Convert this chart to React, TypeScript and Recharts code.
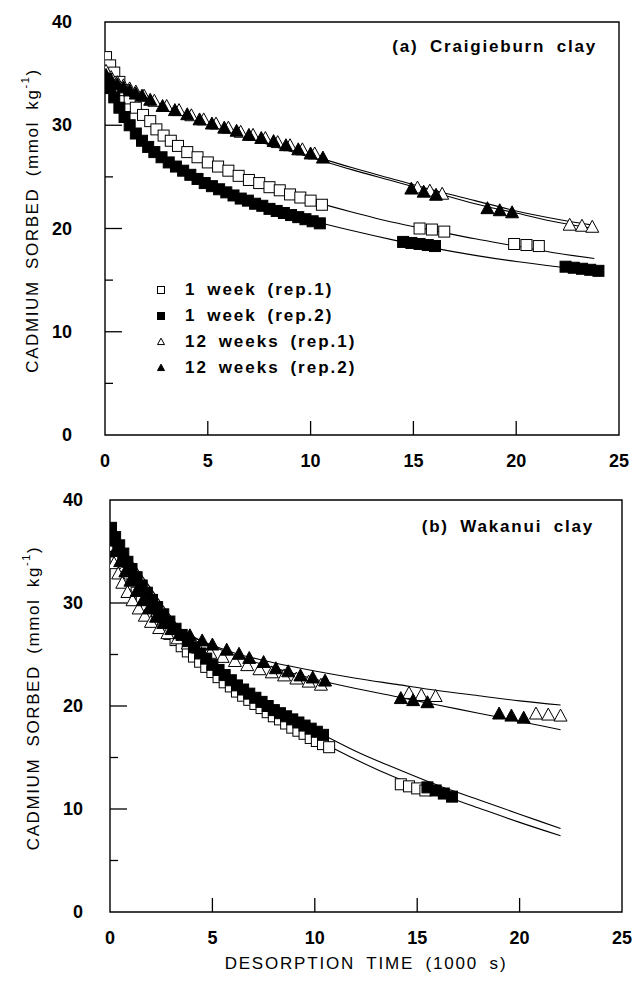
import { ComposedChart, Scatter, Line, XAxis, YAxis, ReferenceArea, Legend, Label } from 'recharts'

const FONT = '"Liberation Sans", Arial, Helvetica, sans-serif'

type Pair = [number, number]

const xTicks = [0, 5, 10, 15, 20, 25]
const yTicks = [0, 5, 10, 15, 20, 25, 30, 35, 40]

const legendLabels = ['1 week (rep.1)', '1 week (rep.2)', '12 weeks (rep.1)', '12 weeks (rep.2)']
const panelTitles = ['(a) Craigieburn clay', '(b) Wakanui clay']
const yTitle = 'CADMIUM SORBED (mmol kg'
const xTitle = 'DESORPTION TIME (1000 s)'

// (a) Craigieburn clay -- measured points [time (1000 s), Cd sorbed]
const aWeek1Rep1: Pair[] = [
  [0.05, 36.6], [0.25, 35.8], [0.45, 35.1], [0.7, 34.2], [0.95, 33.4], [1.2, 32.6], [1.5, 31.7],
  [1.85, 31.0], [2.2, 30.4], [2.5, 29.6], [2.85, 29.0], [3.2, 28.5], [3.55, 28.0], [4.0, 27.4],
  [4.5, 26.9], [5.0, 26.4], [5.5, 26.0], [6.0, 25.6], [6.5, 25.1], [7.0, 24.7], [7.5, 24.4],
  [8.0, 24.0], [8.5, 23.7], [9.0, 23.3], [9.5, 23.0], [10.0, 22.7], [10.55, 22.3],
  [15.3, 20.0], [15.9, 19.9], [16.5, 19.7], [19.9, 18.5], [20.5, 18.4], [21.1, 18.3]
]
const aWeek1Rep2: Pair[] = [
  [0.05, 34.5], [0.25, 33.6], [0.45, 32.7], [0.7, 31.7], [0.95, 30.8], [1.2, 30.0], [1.5, 29.2],
  [1.8, 28.5], [2.1, 27.9], [2.4, 27.4], [2.75, 26.9], [3.1, 26.4], [3.45, 26.0], [3.8, 25.6],
  [4.15, 25.2], [4.5, 24.8], [4.85, 24.4], [5.2, 24.1], [5.55, 23.8], [5.9, 23.5], [6.25, 23.2],
  [6.6, 22.9], [6.95, 22.7], [7.3, 22.4], [7.65, 22.2], [8.0, 21.9], [8.35, 21.7], [8.7, 21.5],
  [9.05, 21.3], [9.4, 21.1], [9.75, 20.9], [10.1, 20.7], [10.45, 20.5],
  [14.5, 18.7], [14.9, 18.6], [15.3, 18.5], [15.7, 18.4], [16.05, 18.3],
  [22.4, 16.3], [22.8, 16.2], [23.2, 16.1], [23.6, 16.0], [24.0, 15.9]
]
const aWeek12Rep1: Pair[] = [
  [0.05, 35.2], [0.3, 34.6], [0.6, 34.1], [0.9, 33.8], [1.2, 33.5], [1.5, 33.2], [1.9, 32.8],
  [2.4, 32.3], [3.0, 31.8], [3.6, 31.4], [4.2, 30.9], [4.8, 30.5], [5.4, 30.1], [6.0, 29.7],
  [6.6, 29.3], [7.2, 29.0], [7.8, 28.7], [8.4, 28.3], [9.0, 28.0], [9.6, 27.6], [10.2, 27.2],
  [15.2, 23.9], [15.8, 23.6], [16.4, 23.3], [22.6, 20.3], [23.2, 20.2], [23.7, 20.1]
]
const aWeek12Rep2: Pair[] = [
  [0.05, 34.8], [0.3, 34.3], [0.6, 33.9], [0.9, 33.6], [1.2, 33.3], [1.5, 33.0], [1.8, 32.8],
  [2.2, 32.4], [2.8, 31.8], [3.4, 31.4], [4.0, 31.0], [4.6, 30.5], [5.2, 30.1], [5.8, 29.7],
  [6.4, 29.4], [7.0, 29.0], [7.6, 28.7], [8.2, 28.4], [8.8, 28.0], [9.4, 27.6], [10.0, 27.2],
  [10.6, 26.8], [14.9, 23.8], [15.5, 23.5], [16.1, 23.2], [18.6, 21.9], [19.2, 21.7], [19.8, 21.5]
]
// fitted curves (a)
const aFitWeek1Rep1: Pair[] = [
  [0, 36.5], [0.5, 34.9], [1, 33.3], [1.5, 31.9], [2, 30.6], [3, 28.9], [4, 27.5], [5, 26.4], [6, 25.5],
  [8, 24.0], [10, 22.7], [12, 21.6], [14, 20.6], [16, 19.8], [18, 19.0], [20, 18.3], [22, 17.6], [23.8, 17.1]
]
const aFitWeek1Rep2: Pair[] = [
  [0, 34.6], [0.5, 32.5], [1, 30.9], [1.5, 29.5], [2, 28.3], [3, 26.6], [4, 25.4], [5, 24.4], [6, 23.5],
  [8, 22.0], [10, 20.8], [12, 19.8], [14, 18.9], [16, 18.1], [18, 17.4], [20, 16.8], [22, 16.3], [23.8, 15.9]
]
const aFitWeek12Rep1: Pair[] = [
  [0, 35.3], [0.5, 34.5], [1, 33.8], [2, 32.7], [3, 31.8], [4, 31.0], [5, 30.3], [6, 29.6], [8, 28.3],
  [10, 27.1], [12, 25.9], [14, 24.8], [16, 23.7], [18, 22.7], [20, 21.7], [22, 20.9], [23.8, 20.3]
]
const aFitWeek12Rep2: Pair[] = [
  [0, 34.9], [0.5, 34.1], [1, 33.5], [2, 32.5], [3, 31.6], [4, 30.8], [5, 30.1], [6, 29.4], [8, 28.1],
  [10, 26.9], [12, 25.7], [14, 24.6], [16, 23.5], [18, 22.4], [20, 21.5], [22, 20.6], [23.8, 20.0]
]

// (b) Wakanui clay -- measured points
const bWeek1Rep1: Pair[] = [
  [0.05, 36.0], [0.25, 35.0], [0.45, 34.1], [0.65, 33.3], [0.85, 32.5], [1.05, 31.8], [1.3, 31.0],
  [1.55, 30.3], [1.8, 29.6], [2.05, 29.0], [2.3, 28.4], [2.6, 27.7], [2.9, 27.0], [3.2, 26.4],
  [3.5, 25.8], [3.8, 25.3], [4.1, 24.8], [4.4, 24.3], [4.7, 23.8], [5.0, 23.3], [5.3, 22.8],
  [5.6, 22.3], [5.9, 21.9], [6.2, 21.4], [6.5, 21.0], [6.8, 20.6], [7.1, 20.2], [7.4, 19.8],
  [7.7, 19.4], [8.0, 19.0], [8.3, 18.7], [8.6, 18.3], [8.9, 17.9], [9.2, 17.6], [9.5, 17.3],
  [9.8, 16.9], [10.1, 16.6], [10.4, 16.3], [10.7, 16.0],
  [14.2, 12.4], [14.6, 12.2], [15.0, 12.0], [15.4, 11.8]
]
const bWeek1Rep2: Pair[] = [
  [0.05, 37.3], [0.25, 36.4], [0.45, 35.6], [0.65, 34.8], [0.85, 34.0], [1.05, 33.3], [1.3, 32.5],
  [1.55, 31.7], [1.8, 31.0], [2.05, 30.3], [2.3, 29.6], [2.6, 28.9], [2.9, 28.2], [3.2, 27.5],
  [3.5, 26.9], [3.8, 26.3], [4.1, 25.7], [4.4, 25.1], [4.7, 24.6], [5.0, 24.0], [5.3, 23.5],
  [5.6, 23.0], [5.9, 22.5], [6.2, 22.0], [6.5, 21.6], [6.8, 21.2], [7.1, 20.8], [7.4, 20.4],
  [7.7, 20.0], [8.0, 19.6], [8.3, 19.3], [8.6, 19.0], [8.9, 18.7], [9.2, 18.4], [9.5, 18.1],
  [9.8, 17.8], [10.1, 17.5], [10.4, 17.2],
  [15.5, 12.1], [15.9, 11.8], [16.3, 11.5], [16.7, 11.2]
]
const bWeek12Rep1: Pair[] = [
  [0.05, 35.0], [0.2, 33.8], [0.4, 32.8], [0.6, 31.9], [0.85, 31.0], [1.1, 30.2], [1.4, 29.4],
  [1.7, 28.7], [2.0, 28.1], [2.4, 27.5], [2.8, 27.0], [3.3, 26.5], [3.8, 26.0], [4.3, 25.6],
  [4.9, 25.1], [5.5, 24.7], [6.1, 24.3], [6.7, 23.9], [7.3, 23.5], [7.9, 23.2], [8.5, 22.9],
  [9.1, 22.6], [9.7, 22.3], [10.3, 22.0],
  [14.6, 21.2], [15.2, 21.0], [15.9, 20.9], [20.8, 19.2], [21.4, 19.1], [22.0, 19.0]
]
const bWeek12Rep2: Pair[] = [
  [0.05, 36.0], [0.25, 35.0], [0.5, 34.0], [0.75, 33.0], [1.0, 32.1], [1.3, 31.1], [1.6, 30.2],
  [1.9, 29.4], [2.25, 28.6], [2.6, 28.0], [3.0, 27.4], [3.4, 27.0], [3.9, 26.8], [4.5, 26.3],
  [5.0, 25.9], [5.7, 25.4], [6.3, 25.0], [6.8, 24.6], [7.5, 24.2], [8.1, 23.6], [8.7, 23.3],
  [9.3, 22.9], [9.9, 22.7], [10.5, 22.4],
  [14.2, 20.7], [14.8, 20.5], [15.5, 20.3], [19.0, 19.2], [19.6, 19.0], [20.2, 18.8]
]
// fitted curves (b)
const bFitWeek1Rep1: Pair[] = [
  [0, 36.3], [0.5, 34.6], [1, 32.9], [2, 29.9], [3, 27.2], [4, 25.0], [5, 23.2], [6, 21.7], [7, 20.3],
  [8, 19.0], [9, 17.9], [10, 16.8], [11, 15.8], [12, 14.8], [14, 13.0], [16, 11.5], [18, 10.1], [20, 8.7], [22, 7.4]
]
const bFitWeek1Rep2: Pair[] = [
  [0, 37.6], [0.5, 35.9], [1, 34.3], [2, 31.4], [3, 28.6], [4, 26.2], [5, 24.1], [6, 22.4], [7, 20.9],
  [8, 19.7], [9, 18.6], [10, 17.6], [11, 16.6], [12, 15.6], [14, 13.9], [16, 12.3], [18, 10.9], [20, 9.5], [22, 8.1]
]
const bFitWeek12Rep1: Pair[] = [
  [0, 35.3], [0.5, 33.0], [1, 31.3], [2, 29.1], [3, 27.7], [4, 26.7], [5, 25.9], [6, 25.2], [8, 24.2],
  [10, 23.4], [12, 22.7], [14, 22.1], [16, 21.5], [18, 21.0], [20, 20.5], [22, 20.1]
]
const bFitWeek12Rep2: Pair[] = [
  [0, 36.2], [0.5, 34.2], [1, 32.5], [2, 29.8], [3, 28.0], [4, 26.8], [5, 25.8], [6, 25.0], [8, 23.7],
  [10, 22.6], [12, 21.7], [14, 20.9], [16, 20.1], [18, 19.3], [20, 18.5], [22, 17.7]
]

type Kind = 'openSq' | 'fillSq' | 'openTri' | 'fillTri'
const legendKinds: Kind[] = ['openSq', 'fillSq', 'openTri', 'fillTri']

const toPts = (arr: Pair[]) => arr.map(([x, y]) => ({ x, y }))

const Marker = ({ cx, cy, kind, size }: { cx: number; cy: number; kind: Kind; size: number }) => {
  if (cx == null || cy == null) return null
  const fill = kind.startsWith('fill') ? '#000' : '#fff'
  if (kind.endsWith('Sq')) {
    return (
      <rect x={cx - size / 2} y={cy - size / 2} width={size} height={size}
        fill={fill} stroke="#000" strokeWidth={1} />
    )
  }
  const h = size * 0.92
  return (
    <polygon
      points={`${cx},${cy - h * 0.6} ${cx - size / 2},${cy + h * 0.4} ${cx + size / 2},${cy + h * 0.4}`}
      fill={fill} stroke="#000" strokeWidth={1} strokeLinejoin="miter" />
  )
}

const YTick = ({ x, y, payload, gap }: any) => {
  const v = payload.value
  const axisX = x + gap
  const major = v % 10 === 0
  return (
    <g>
      {v > 0 && v < 40 && (
        <line x1={axisX} x2={axisX + (major ? 17 : 8)} y1={y} y2={y} stroke="#000" strokeWidth={1.3} />
      )}
      {major && (
        <text x={x} y={y} textAnchor="end" dominantBaseline="central"
          fontFamily={FONT} fontSize={18} fontWeight={700} fill="#000">{v}</text>
      )}
    </g>
  )
}

const XTick = ({ x, y, payload, gap }: any) => {
  const v = payload.value
  const axisY = y - gap
  return (
    <g>
      {v > 0 && v < 25 && (
        <line x1={x} x2={x} y1={axisY} y2={axisY - 14} stroke="#000" strokeWidth={1.3} />
      )}
      <text x={x} y={y} textAnchor="middle" dominantBaseline="central"
        fontFamily={FONT} fontSize={18} fontWeight={700} fill="#000">{v}</text>
    </g>
  )
}

const LegendBox = () => (
  <div style={{ fontFamily: FONT, fontSize: 17, fontWeight: 700, letterSpacing: 2, wordSpacing: 4, color: '#000' }}>
    {legendLabels.map((label, i) => (
      <div key={label} style={{ display: 'flex', alignItems: 'center', height: 26, whiteSpace: 'nowrap' }}>
        <svg width={12} height={12} style={{ marginRight: 18, flex: 'none' }}>
          <Marker cx={6} cy={6} kind={legendKinds[i]} size={7} />
        </svg>
        <span>{label}</span>
      </div>
    ))}
  </div>
)

interface PanelProps {
  height: number
  margin: { top: number; right: number; bottom: number; left: number }
  xAxisHeight: number
  yGap: number
  yTitleX: number
  title: string
  titleRight: number
  titleTop: number
  week1Rep1: Pair[]
  week1Rep2: Pair[]
  week12Rep1: Pair[]
  week12Rep2: Pair[]
  fits: Pair[][]
  showLegend?: boolean
  showXTitle?: boolean
}

function Panel(p: PanelProps) {
  const series: { data: Pair[]; kind: Kind; size: number }[] = [
    { data: p.week1Rep1, kind: 'openSq', size: 11 },
    { data: p.week12Rep1, kind: 'openTri', size: 13 },
    { data: p.week1Rep2, kind: 'fillSq', size: 11 },
    { data: p.week12Rep2, kind: 'fillTri', size: 13 }
  ]
  return (
    <div style={{ position: 'relative', width: 632, height: p.height }}>
      <ComposedChart width={632} height={p.height} margin={p.margin} style={{ fontFamily: FONT }}>
        <XAxis type="number" dataKey="x" domain={[0, 25]} ticks={xTicks} interval={0} allowDataOverflow
          height={p.xAxisHeight} axisLine={false} tickLine={false} tickSize={0} tickMargin={26}
          tick={(t: any) => <XTick {...t} gap={26} />}>
          {p.showXTitle && (
            <Label content={({ viewBox }: any) => (
              <text x={viewBox.x + viewBox.width / 2} y={viewBox.y + 51} textAnchor="middle"
                dominantBaseline="central" fontFamily={FONT} fontSize={17} letterSpacing={1.8}
                style={{ wordSpacing: 5 }} fill="#000">{xTitle}</text>
            )} />
          )}
        </XAxis>
        <YAxis type="number" dataKey="y" domain={[0, 40]} ticks={yTicks} interval={0} allowDataOverflow
          width={40} axisLine={false} tickLine={false} tickSize={0} tickMargin={p.yGap}
          tick={(t: any) => <YTick {...t} gap={p.yGap} />}>
          <Label content={({ viewBox }: any) => {
            const cy = viewBox.y + viewBox.height / 2 - 8
            const cx = p.yTitleX
            return (
              <text x={cx} y={cy} transform={`rotate(-90 ${cx} ${cy})`} textAnchor="middle"
                dominantBaseline="central" fontFamily={FONT} fontSize={17} letterSpacing={1.6}
                style={{ wordSpacing: 5 }} fill="#000">
                {yTitle}
                <tspan dy={-7} fontSize={11}>-1</tspan>
                <tspan dy={7}>)</tspan>
              </text>
            )
          }} />
        </YAxis>
        <ReferenceArea x1={0} x2={25} y1={0} y2={40} fill="none" stroke="#000" strokeWidth={1.4} ifOverflow="visible" />
        {p.fits.map((f, i) => (
          <Line key={`fit-${i}`} data={toPts(f)} dataKey="y" type="monotone" dot={false} activeDot={false}
            stroke="#000" strokeWidth={1.1} isAnimationActive={false} legendType="none" />
        ))}
        {series.map((s) => (
          <Scatter key={s.kind} data={toPts(s.data)} dataKey="y" isAnimationActive={false}
            shape={(sp: any) => <Marker cx={sp.cx} cy={sp.cy} kind={s.kind} size={s.size} />} />
        ))}
        {p.showLegend && (
          <Legend layout="vertical" align="center" verticalAlign="middle"
            wrapperStyle={{ left: 155, top: 277, width: 260, height: 110 }}
            content={() => <LegendBox />} />
        )}
      </ComposedChart>
      <div style={{
        position: 'absolute', right: p.titleRight, top: p.titleTop, fontFamily: FONT, fontSize: 17,
        fontWeight: 700, letterSpacing: 1.8, wordSpacing: 5, lineHeight: '20px', whiteSpace: 'nowrap', color: '#000'
      }}>{p.title}</div>
    </div>
  )
}

export default function App() {
  return (
    <div style={{ position: 'absolute', left: 0, top: 0, width: 632, height: 990, background: '#fff' }}>
      <Panel
        height={480}
        margin={{ top: 22, right: 13, bottom: 15, left: 65 }}
        xAxisHeight={30}
        yGap={33}
        yTitleX={32}
        title={panelTitles[0]}
        titleRight={35}
        titleTop={37}
        week1Rep1={aWeek1Rep1}
        week1Rep2={aWeek1Rep2}
        week12Rep1={aWeek12Rep1}
        week12Rep2={aWeek12Rep2}
        fits={[aFitWeek1Rep1, aFitWeek1Rep2, aFitWeek12Rep1, aFitWeek12Rep2]}
        showLegend
      />
      <Panel
        height={510}
        margin={{ top: 20, right: 10, bottom: 18, left: 70 }}
        xAxisHeight={60}
        yGap={27}
        yTitleX={33}
        title={panelTitles[1]}
        titleRight={38}
        titleTop={37}
        week1Rep1={bWeek1Rep1}
        week1Rep2={bWeek1Rep2}
        week12Rep1={bWeek12Rep1}
        week12Rep2={bWeek12Rep2}
        fits={[bFitWeek1Rep1, bFitWeek1Rep2, bFitWeek12Rep1, bFitWeek12Rep2]}
        showXTitle
      />
    </div>
  )
}
